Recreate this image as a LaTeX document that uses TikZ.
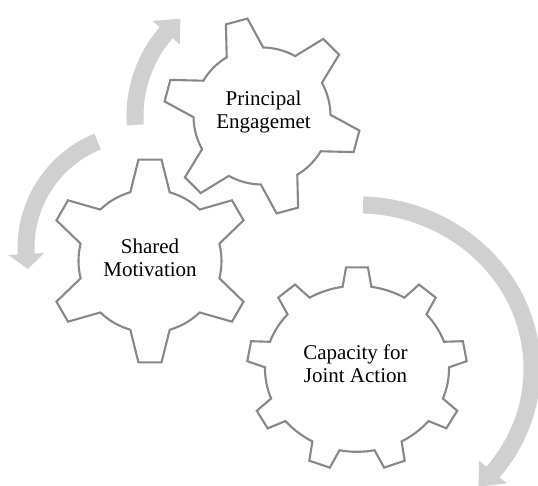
\documentclass[tikz,border=0pt]{standalone}
\usepackage{fontspec}
\setmainfont{Liberation Serif}
\definecolor{gearline}{RGB}{136,136,136}
\definecolor{arrowfill}{RGB}{208,208,208}
\begin{document}
\begin{tikzpicture}[x=1pt,y=1pt,
  gearshape/.style={draw=gearline, line width=2.1pt, fill=white, line join=miter},
  cyclearrow/.style={fill=arrowfill},
  geartext/.style={align=center, font=\fontsize{21}{23}\selectfont, inner sep=0pt}]
\useasboundingbox (0,0) rectangle (538,486);

% cycle arrows
\begin{scope}[shift={(262,370)}]
\fill[cyclearrow] (184:135.5) arc[start angle=184, end angle=139, radius=135.5]
  -- (139:145) -- (130:127) -- (139:109) -- (139:118.5)
  arc[start angle=139, end angle=184, radius=118.5] -- cycle;
\end{scope}
\begin{scope}[shift={(141,238)}]
\fill[cyclearrow] (112.2:123.5) arc[start angle=112.2, end angle=183, radius=123.5]
  -- (183:133) -- (190.5:115) -- (183:97) -- (183:106.5)
  arc[start angle=183, end angle=112.2, radius=106.5] -- cycle;
\end{scope}
\begin{scope}[shift={(357,117.2)}]
\fill[cyclearrow] (88:183.5 and 172.5) arc[start angle=88, end angle=-39, x radius=183.5, y radius=172.5]
  -- (-39:193 and 182) -- (-46:175 and 164) -- (-39:157 and 146) -- (-39:166.5 and 155.5)
  arc[start angle=-39, end angle=88, x radius=166.5, y radius=155.5] -- cycle;
\end{scope}

% gear 1
\begin{scope}[shift={(262,370)}]
\draw[gearshape] (29:68.5) \foreach \t in {45,105,...,345} {
   -- ({\t-6.5}:98.5) -- ({\t+6.5}:98.5) -- ({\t+16}:68.5)
   arc[start angle={\t+16}, end angle={\t+44}, radius=68.5] } -- cycle;
\node[geartext] (pe) at (1.5,4) {Principal\\Engagemet};
\end{scope}

% gear 2
\begin{scope}[shift={(150,225)}]
\draw[gearshape] (14:71.5) \foreach \t in {30,90,...,330} {
   -- ({\t-6.5}:102) -- ({\t+6.5}:102) -- ({\t+16}:71.5)
   arc[start angle={\t+16}, end angle={\t+44}, radius=71.5] } -- cycle;
\node[geartext] (sm) at (0,3.5) {Shared\\Motivation};
\end{scope}

% gear 3
\begin{scope}[shift={(357,117.2)}]
\draw[gearshape] (81:92 and 83) \foreach \t in {90,130,...,410} {
   -- ({\t-5.7}:110 and 102) -- ({\t+5.7}:110 and 102) -- ({\t+9}:92 and 83)
   arc[start angle={\t+9}, end angle={\t+31}, x radius=92, y radius=83] } -- cycle;
\node[geartext] (cja) at (-1.5,4.8) {Capacity for\\Joint Action};
\end{scope}
\end{tikzpicture}
\end{document}
